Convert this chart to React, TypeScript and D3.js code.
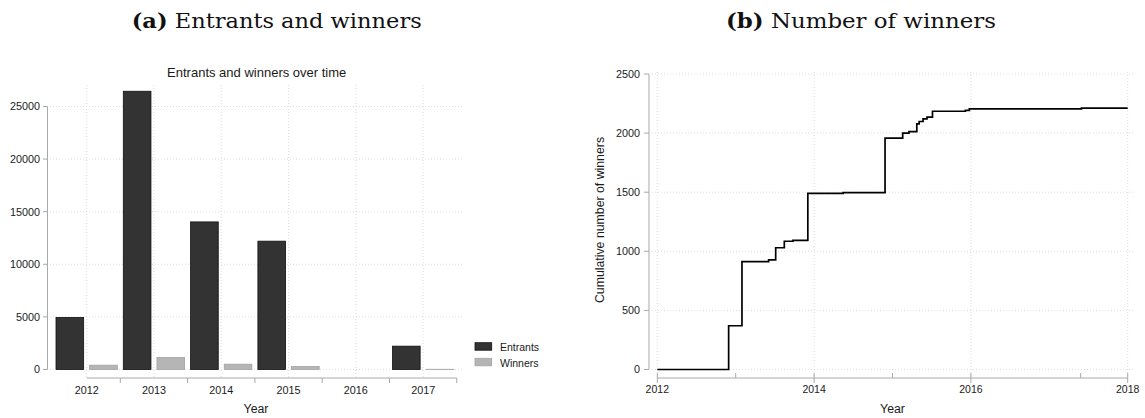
import React from "react";
import * as d3 from "d3";

// ---- Panel (a): entrants and winners per year ----
const years = ["2012", "2013", "2014", "2015", "2016", "2017"];
const seriesNames = ["Entrants", "Winners"];
const entrants = [4950, 26450, 14030, 12200, 0, 2220];
const winners = [410, 1140, 505, 285, 0, 20];
const countTicks = [0, 5000, 10000, 15000, 20000, 25000];

// ---- Panel (b): cumulative winners (step function) ----
const stepYears = [
  2012.0, 2012.91, 2013.08, 2013.42, 2013.51, 2013.62, 2013.73, 2013.92,
  2014.37, 2014.905, 2015.13, 2015.21, 2015.31, 2015.34, 2015.39, 2015.44,
  2015.51, 2015.93, 2015.98, 2017.41, 2018.0,
];
const stepTotals = [
  0, 370, 912, 928, 1030, 1085, 1093, 1490,
  1497, 1958, 2000, 2012, 2078, 2098, 2120, 2135,
  2185, 2193, 2205, 2212, 2212,
];
const cumTicks = [0, 500, 1000, 1500, 2000, 2500];
const yearTicks = [2012, 2014, 2016, 2018];
const minorYearTicks = [2013, 2015, 2017.4];

const SANS = "'Liberation Sans', Arial, Helvetica, sans-serif";
const SERIF = "'DejaVu Serif', 'Liberation Serif', serif";
const AXIS = "#a9a9a9";
const GRID = "#d6d6d6";
const TXT = "#1a1a1a";

function PanelA() {
  const y = d3.scaleLinear().domain([0, 25000]).range([369.5, 106.5]);
  const xg = d3.scaleBand<string>().domain(years).range([56, 453.8]).paddingInner(0.089).paddingOuter(0);
  const xs = d3.scaleBand<string>().domain(seriesNames).range([0, xg.bandwidth()]).paddingInner(0.178).paddingOuter(0);
  const centre = (yr: string) => (xg(yr) as number) + xg.bandwidth() / 2;
  const vals: Record<string, number[]> = { Entrants: entrants, Winners: winners };
  const fills: Record<string, string> = { Entrants: "#333333", Winners: "#b5b5b5" };
  const strokes: Record<string, string> = { Entrants: "#111111", Winners: "#a2a2a2" };
  const plotLeft = 50;
  const plotRight = 463;
  const plotTop = 85;
  const axisY = 378;
  const first = centre(years[0]);
  const last = centre(years[years.length - 1]);
  return (
    <g>
      <text x={256.7} y={77} textAnchor="middle" fontFamily={SANS} fontSize={13} fill={TXT}>
        Entrants and winners over time
      </text>
      {countTicks.map((t) => (
        <line key={"hg" + t} x1={plotLeft} x2={plotRight} y1={y(t)} y2={y(t)} stroke={GRID} strokeWidth={0.8} strokeDasharray="1 2" />
      ))}
      {years.map((yr) => (
        <line key={"vg" + yr} x1={centre(yr)} x2={centre(yr)} y1={plotTop} y2={axisY - 1} stroke={GRID} strokeWidth={0.8} strokeDasharray="1 2" />
      ))}
      {seriesNames.map((s) =>
        years.map((yr, i) => {
          const v = vals[s][i];
          if (v <= 0) return null;
          const x0 = (xg(yr) as number) + (xs(s) as number);
          return (
            <rect key={s + yr} x={x0} y={y(v)} width={xs.bandwidth()} height={y(0) - y(v)} fill={fills[s]} stroke={strokes[s]} strokeWidth={0.8} />
          );
        })
      )}
      {/* y axis */}
      <line x1={47.5} x2={47.5} y1={y(25000)} y2={y(0)} stroke={AXIS} strokeWidth={1} />
      {countTicks.map((t) => (
        <g key={"yt" + t}>
          <line x1={43} x2={47.5} y1={y(t)} y2={y(t)} stroke={AXIS} strokeWidth={1} />
          <text x={40} y={y(t) + 3.8} textAnchor="end" fontFamily={SANS} fontSize={10.8} fill={TXT}>
            {t}
          </text>
        </g>
      ))}
      {/* x axis */}
      <line x1={first} x2={last + xg.step() / 2} y1={axisY} y2={axisY} stroke={AXIS} strokeWidth={1} />
      {years.map((yr) => (
        <g key={"xt" + yr}>
          <line x1={centre(yr) + xg.step() / 2} x2={centre(yr) + xg.step() / 2} y1={axisY} y2={axisY + 5} stroke={AXIS} strokeWidth={1} />
          <text x={centre(yr)} y={394} textAnchor="middle" fontFamily={SANS} fontSize={10.8} fill={TXT}>
            {yr}
          </text>
        </g>
      ))}
      <text x={256} y={413} textAnchor="middle" fontFamily={SANS} fontSize={12.3} fill={TXT}>
        Year
      </text>
      {/* legend */}
      {seriesNames.map((s, i) => (
        <g key={"lg" + s}>
          <rect x={475} y={342.7 + i * 15.6} width={16.7} height={7.5} fill={fills[s]} stroke={strokes[s]} strokeWidth={0.8} />
          <text x={500} y={351 + i * 16} fontFamily={SANS} fontSize={10.5} fill={TXT}>
            {s}
          </text>
        </g>
      ))}
    </g>
  );
}

function PanelB() {
  const x = d3.scaleLinear().domain([2012, 2018]).range([657.3, 1127.7]);
  const y = d3.scaleLinear().domain([0, 2500]).range([369.5, 74]);
  const pts = stepYears.map((yr, i) => [yr, stepTotals[i]] as [number, number]);
  const path = d3
    .line<[number, number]>()
    .x((d) => x(d[0]))
    .y((d) => y(d[1]))
    .curve(d3.curveStepAfter)(pts) as string;
  const axisY = 378;
  return (
    <g>
      {cumTicks.map((t) => (
        <line key={"hg" + t} x1={652} x2={1135} y1={y(t)} y2={y(t)} stroke={GRID} strokeWidth={0.8} strokeDasharray="1 2" />
      ))}
      {yearTicks.map((t) => (
        <line key={"vg" + t} x1={x(t)} x2={x(t)} y1={72} y2={axisY - 1} stroke={GRID} strokeWidth={0.8} strokeDasharray="1 2" />
      ))}
      <path d={path} fill="none" stroke="#000" strokeWidth={1.7} strokeLinejoin="miter" />
      {/* y axis */}
      <line x1={649} x2={649} y1={y(2500)} y2={y(0)} stroke={AXIS} strokeWidth={1} />
      {cumTicks.map((t) => (
        <g key={"yt" + t}>
          <line x1={644} x2={649} y1={y(t)} y2={y(t)} stroke={AXIS} strokeWidth={1} />
          <text x={640} y={y(t) + 3.8} textAnchor="end" fontFamily={SANS} fontSize={10.8} fill={TXT}>
            {t}
          </text>
        </g>
      ))}
      <text
        transform={`translate(604,220) rotate(-90)`}
        textAnchor="middle"
        fontFamily={SANS}
        fontSize={12.3}
        fill={TXT}
      >
        Cumulative number of winners
      </text>
      {/* x axis */}
      <line x1={x(2012)} x2={x(2018)} y1={axisY} y2={axisY} stroke={AXIS} strokeWidth={1} />
      {yearTicks.map((t) => (
        <g key={"xt" + t}>
          <line x1={x(t)} x2={x(t)} y1={axisY - 5} y2={axisY + 5} stroke={AXIS} strokeWidth={1} />
          <text x={x(t)} y={392.5} textAnchor="middle" fontFamily={SANS} fontSize={10.5} fill={TXT}>
            {t}
          </text>
        </g>
      ))}
      {minorYearTicks.map((t) => (
        <line key={"mt" + t} x1={x(t)} x2={x(t)} y1={axisY - 5} y2={axisY} stroke={AXIS} strokeWidth={1} />
      ))}
      <text x={892.5} y={412.5} textAnchor="middle" fontFamily={SANS} fontSize={12.3} fill={TXT}>
        Year
      </text>
    </g>
  );
}

function Heading({ x, width, tag, label }: { x: number; width: number; tag: string; label: string }) {
  return (
    <text x={x} y={27.5} fontFamily={SERIF} fontSize={19.5} fill="#111" textLength={width} lengthAdjust="spacingAndGlyphs">
      <tspan fontWeight="bold">{tag}</tspan>
      <tspan>{" " + label}</tspan>
    </text>
  );
}

export default function App() {
  return (
    <div style={{ position: "absolute", left: 0, top: 0, width: 1145, height: 418, background: "#fff" }}>
      <svg width={1145} height={418} viewBox="0 0 1145 418" style={{ display: "block" }}>
        <rect width={1145} height={418} fill="#fff" />
        <Heading x={131.7} width={290} tag="(a)" label="Entrants and winners" />
        <Heading x={726} width={270} tag="(b)" label="Number of winners" />
        <PanelA />
        <PanelB />
      </svg>
    </div>
  );
}
